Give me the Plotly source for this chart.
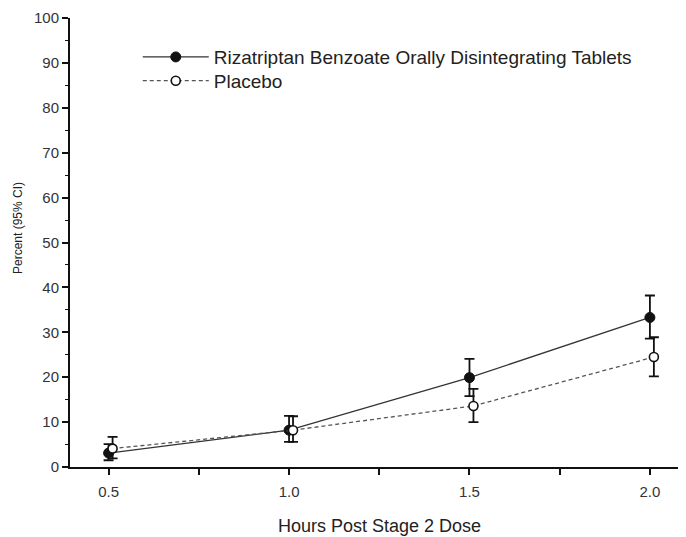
import plotly.graph_objects as go

# Data
hours = [0.5, 1.0, 1.5, 2.0]
riza_pct = [3.1, 8.2, 19.9, 33.3]
riza_lo = [1.5, 5.6, 15.8, 28.6]
riza_hi = [5.1, 11.4, 24.1, 38.2]
placebo_pct = [4.1, 8.2, 13.6, 24.5]
placebo_lo = [1.9, 5.6, 10.0, 20.2]
placebo_hi = [6.7, 11.3, 17.4, 28.9]

x_tickvals = [0.5, 0.75, 1.0, 1.25, 1.5, 1.75, 2.0]
x_ticktext = ["0.5", "", "1.0", "", "1.5", "", "2.0"]

series_names = ["Rizatriptan Benzoate Orally Disintegrating Tablets", "Placebo"]
x_title = "Hours Post Stage 2 Dose"
y_title = "Percent (95% CI)"

FONT = "Liberation Sans, Arial, Helvetica, sans-serif"
offset = 0.011  # small horizontal dodge for placebo points

# the page body adds an 8px margin, so the figure is sized to fit the window
W, H = 678, 529
ML, MR, MT, MB = 62, 0, 10, 70
PW, PH = W - ML - MR, H - MT - MB

fig = go.Figure()

fig.add_trace(go.Scatter(
    x=hours, y=riza_pct, name=series_names[0], mode="lines+markers",
    legend="legend",
    line=dict(color="#333333", width=1.3),
    marker=dict(symbol="circle", size=10, color="#111111",
                line=dict(color="#111111", width=1)),
    error_y=dict(type="data", symmetric=False,
                 array=[h - v for h, v in zip(riza_hi, riza_pct)],
                 arrayminus=[v - l for v, l in zip(riza_pct, riza_lo)],
                 color="#111111", thickness=1.8, width=5),
))

fig.add_trace(go.Scatter(
    x=[h + offset for h in hours], y=placebo_pct, name=series_names[1], mode="lines+markers",
    legend="legend2",
    line=dict(color="#555555", width=1.3, dash="4px,3px"),
    marker=dict(symbol="circle", size=9, color="white",
                line=dict(color="#111111", width=1.6)),
    error_y=dict(type="data", symmetric=False,
                 array=[h - v for h, v in zip(placebo_hi, placebo_pct)],
                 arrayminus=[v - l for v, l in zip(placebo_pct, placebo_lo)],
                 color="#111111", thickness=1.8, width=5),
))

legend_style = dict(xanchor="left", yanchor="middle",
                    font=dict(size=19, family=FONT, color="#222222"),
                    bgcolor="rgba(0,0,0,0)", itemwidth=66, borderwidth=0)

fig.update_layout(
    width=W, height=H,
    margin=dict(l=ML, r=MR, t=MT, b=MB, autoexpand=False),
    paper_bgcolor="white", plot_bgcolor="white",
    font=dict(family=FONT, color="#222222"),
    showlegend=True,
    legend=dict(x=0.110, y=0.913, **legend_style),
    legend2=dict(x=0.110, y=0.860, **legend_style),
    xaxis=dict(range=[0.393, 2.1], tickvals=x_tickvals, ticktext=x_ticktext,
               automargin=False,
               showgrid=False, zeroline=False, showline=True, linecolor="#111111",
               linewidth=2, ticks="outside", ticklen=6, tickwidth=1.5, tickcolor="#111111",
               tickfont=dict(size=15, family=FONT, color="#333333"),
               ticklabelstandoff=4),
    yaxis=dict(range=[0, 100], tickmode="linear", tick0=0, dtick=10,
               automargin=False,
               showgrid=False, zeroline=False, showline=True, linecolor="#111111",
               linewidth=2, ticks="outside", ticklen=6, tickwidth=1.5, tickcolor="#111111",
               tickfont=dict(size=15, family=FONT, color="#333333"),
               minor=dict(dtick=5, ticks="outside", ticklen=3, tickwidth=1, tickcolor="#111111")),
    annotations=[
        dict(text=x_title, xref="paper", yref="paper", x=0.502, y=-(518 - (H - MB)) / PH,
             xanchor="center", yanchor="middle", showarrow=False,
             font=dict(size=18, family=FONT, color="#222222")),
        dict(text=y_title, xref="paper", yref="paper", x=-(ML - 10) / PW,
             y=((H - MB) - 220) / PH, textangle=-90,
             xanchor="center", yanchor="middle", showarrow=False,
             font=dict(size=12, family=FONT, color="#222222")),
    ],
)

fig.write_html("out.html")
